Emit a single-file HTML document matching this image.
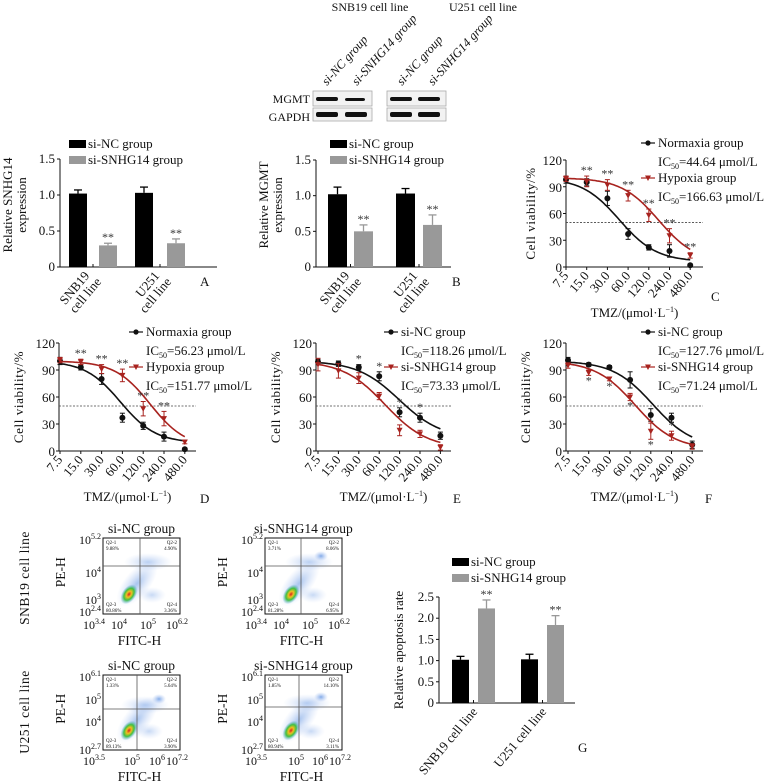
<!DOCTYPE html>
<html><head><meta charset="utf-8">
<style>
html,body{margin:0;padding:0;background:#fff;}
svg{display:block;font-family:"Liberation Serif",serif;}
</style></head>
<body>
<svg id="fig" width="773" height="784" viewBox="0 0 773 784" xmlns="http://www.w3.org/2000/svg">
<defs>
<radialGradient id="core" cx="50%" cy="50%" r="50%">
<stop offset="0" stop-color="#d62020"/><stop offset="0.3" stop-color="#f0c020"/><stop offset="0.6" stop-color="#40c040"/><stop offset="1" stop-color="#4aa0e0" stop-opacity="0"/>
</radialGradient>
<radialGradient id="halo" cx="50%" cy="50%" r="50%">
<stop offset="0" stop-color="#5a8fe0" stop-opacity="0.75"/><stop offset="1" stop-color="#9ab8f0" stop-opacity="0"/>
</radialGradient>
</defs>
</svg>
<script>
// ---- data ----
const barCats = ["SNB19 cell line", "U251 cell line"];
const snhgNC = [1.02, 1.03];
const snhgNCerr = [0.05, 0.08];
const snhgSi = [0.30, 0.33];
const snhgSiErr = [0.03, 0.06];
const mgmtNC = [1.02, 1.03];
const mgmtNCerr = [0.10, 0.07];
const mgmtSi = [0.50, 0.59];
const mgmtSiErr = [0.09, 0.14];
const apoNC = [1.02, 1.03];
const apoNCerr = [0.08, 0.12];
const apoSi = [2.23, 1.84];
const apoSiErr = [0.20, 0.22];
const barTicks = [0, 0.5, 1.0, 1.5];
const apoTicks = [0, 0.5, 1.0, 1.5, 2.0, 2.5];
const doses = [7.5, 15.0, 30.0, 60.0, 120.0, 240.0, 480.0];
const doseLabels = ["7.5", "15.0", "30.0", "60.0", "120.0", "240.0", "480.0"];
const vTicks = [0, 30, 60, 90, 120];
const cNorm = [98, 95, 77, 37, 22, 18, 2];
const cNormErr = [4, 4, 8, 6, 3, 7, 1];
const cHyp = [99, 96, 92, 80, 58, 35, 13];
const cHypErr = [3, 6, 6, 6, 7, 8, 3];
const cIC = [44.64, 166.63];
const dNorm = [100, 93, 80, 37, 28, 16, 2];
const dNormErr = [4, 3, 6, 5, 4, 5, 1];
const dHyp = [101, 99, 91, 84, 47, 36, 10];
const dHypErr = [3, 3, 5, 7, 8, 8, 2];
const dIC = [56.23, 151.77];
const eNC = [99, 97, 93, 83, 43, 37, 17];
const eNCerr = [3, 3, 3, 5, 5, 5, 4];
const eSi = [96, 89, 81, 61, 23, 19, 4];
const eSiErr = [7, 8, 6, 4, 6, 4, 3];
const eIC = [118.26, 73.33];
const fNC = [101, 96, 93, 79, 40, 37, 7];
const fNCerr = [3, 2, 2, 9, 7, 5, 4];
const fSi = [95, 87, 80, 60, 22, 17, 5];
const fSiErr = [3, 3, 2, 4, 9, 5, 3];
const fIC = [127.76, 71.24];

// ---- helpers ----
const NS = "http://www.w3.org/2000/svg";
const svg = document.getElementById('fig');
function mk(tag, attrs, parent){
  const e = document.createElementNS(NS, tag);
  for (const k in attrs) e.setAttribute(k, attrs[k]);
  (parent || svg).appendChild(e);
  return e;
}
function grp(name, parent){
  const g = mk('g', {}, parent);
  
  
  return g;
}
function txt(x, y, s, size, parent, anchor, extra){
  const t = mk('text', Object.assign({x:x, y:y, 'font-size':size, fill:'#111', 'text-anchor':anchor||'start'}, extra||{}), parent);
  t.textContent = s;
  return t;
}
function line(x1,y1,x2,y2,parent,stroke,w,dash){
  const a = {x1:x1,y1:y1,x2:x2,y2:y2,stroke:stroke||'#111','stroke-width':w||1};
  if (dash) a['stroke-dasharray'] = dash;
  return mk('line', a, parent);
}
function tmzLabel(cx, y, parent){
  const t = mk('text', {x:cx, y:y, 'font-size':13, 'text-anchor':'middle', fill:'#111'}, parent);
  
  
  const a = mk('tspan', {}, t); a.textContent = 'TMZ/(\u03bcmol\u00b7L';
  const b = mk('tspan', {dy:-5, 'font-size':8}, t); b.textContent = '\u22121';
  const c = mk('tspan', {dy:5}, t); c.textContent = ')';
}
function icText(x, y, val, parent){
  const t = mk('text', {x:x, y:y, 'font-size':13, fill:'#111'}, parent);
  
  
  const a = mk('tspan', {}, t); a.textContent = 'IC';
  const b = mk('tspan', {dy:3, 'font-size':8}, t); b.textContent = '50';
  const c = mk('tspan', {dy:-3}, t); c.textContent = '=' + val + ' \u03bcmol/L';
}

// ---- bar panel ----
function barPanel(o){
  const g = grp(o.name);
  const y = v => o.y0 - (v / o.max) * (o.y0 - o.yTop);
  line(o.ax, o.yTop, o.ax, o.y0, g);
  line(o.ax, o.y0, o.xEnd, o.y0, g);
  o.ticks.forEach(tv => {
    line(o.ax-3, y(tv), o.ax, y(tv), g);
    const lab = txt(o.ax-5, y(tv)+4, tv===0?'0':tv.toFixed(1), 13, g, 'end');
    
    
  });
  const series = [[o.nc, o.ncErr, '#000'], [o.si, o.siErr, '#999']];
  barCats.forEach((c, i) => {
    series.forEach((s, j) => {
      const x = o.barX[i*2 + j];
      const v = s[0][i], e = s[1][i];
      const r = mk('rect', {x:x, y:y(v), width:o.bw, height:o.y0 - y(v), fill:s[2]}, g);
      
      
      const cx = x + o.bw/2;
      line(cx, y(v), cx, y(v+e), g, s[2], 1.3);
      line(cx-4, y(v+e), cx+4, y(v+e), g, s[2], 1.3);
      if (j===1){
        const st = txt(cx, y(v+e)-2, '**', 12, g, 'middle', {fill:'#333'});
        
        
      }
    });
    const mid = (o.barX[i*2] + o.barX[i*2+1] + o.bw) / 2;
    line(mid, o.y0, mid, o.y0 - 3, g);
  });
  const lg = grp('legend', g);
  mk('rect', {x:o.lx, y:o.ly-8, width:17, height:8, fill:'#000'}, lg);
  txt(o.lx+19, o.ly, 'si-NC group', 13, lg);
  mk('rect', {x:o.lx, y:o.ly+8, width:17, height:8, fill:'#999'}, lg);
  txt(o.lx+19, o.ly+16, 'si-SNHG14 group', 13, lg);
  const yt = mk('text', {transform:'translate('+o.ytx+','+o.yty+') rotate(-90)', 'font-size':13, 'text-anchor':'middle', fill:'#111'}, g);
  
  
  o.ytitle.forEach((s, k) => { const ts = mk('tspan', {x:0, y:k*14}, yt); ts.textContent = s; });
  o.catPos.forEach((p, i) => {
    const t = mk('text', {transform:'translate('+p[0]+','+p[1]+') rotate(-50)', 'font-size':13, 'text-anchor':'end', fill:'#111'}, g);
    
    
    const parts = o.catLines ? barCats[i].replace(' cell line','|cell line').split('|') : [barCats[i]];
    parts.forEach((s, k) => { const ts = mk('tspan', {x:k*3, y:k*13}, t); ts.textContent = s; });
  });
  const pl = txt(o.px, o.py, o.letter, 13, g);
  
  
}

barPanel({name:'panel-a-snhg14-bar-chart', ax:60, xEnd:217, y0:267, yTop:159, max:1.5, ticks:barTicks,
  barX:[69,99,135,167], bw:18, nc:snhgNC, ncErr:snhgNCerr, si:snhgSi, siErr:snhgSiErr,
  lx:69, ly:148, ytitle:['Relative SNHG14','expression'], ytx:12, yty:205,
  catPos:[[90,276],[160,276]], catLines:true, letter:'A', px:200, py:286});
barPanel({name:'panel-b-mgmt-bar-chart', ax:316, xEnd:451, y0:267, yTop:160, max:1.5, ticks:barTicks,
  barX:[328,354,396,423], bw:19, nc:mgmtNC, ncErr:mgmtNCerr, si:mgmtSi, siErr:mgmtSiErr,
  lx:330, ly:148, ytitle:['Relative MGMT','expression'], ytx:268, yty:205,
  catPos:[[350,276],[418,276]], catLines:true, letter:'B', px:452, py:286});
barPanel({name:'panel-g-apoptosis-bar-chart', ax:439, xEnd:575, y0:703, yTop:597, max:2.5, ticks:apoTicks,
  barX:[452,478,521,547], bw:17, nc:apoNC, ncErr:apoNCerr, si:apoSi, siErr:apoSiErr,
  lx:452, ly:566, ytitle:['Relative apoptosis rate'], ytx:403, yty:650,
  catPos:[[478,712],[547,712]], catLines:false, letter:'G', px:578, py:752});

// ---- viability panels ----
function vPanel(o){
  const g = grp(o.name);
  const y = v => o.y0 - (v / 120) * (o.y0 - o.yTop);
  const x = c => o.x0 + Math.log2(c / doses[0]) * o.dx;
  line(o.ax, o.yTop, o.ax, o.y0, g);
  line(o.ax, o.y0, o.xEnd, o.y0, g);
  vTicks.forEach(tv => {
    line(o.ax-3, y(tv), o.ax, y(tv), g);
    const l = txt(o.ax-4, y(tv)+5, String(tv), 13, g, 'end');
    
    
  });
  doses.forEach((d, i) => {
    line(x(d), o.y0, x(d), o.y0+3, g);
    const l = mk('text', {transform:'translate('+(x(d)+3)+','+(o.y0+9)+') rotate(-50)', 'font-size':13, 'text-anchor':'end', fill:'#111'}, g);
    l.textContent = doseLabels[i];
    
    
  });
  line(o.ax, y(50), o.xEnd, y(50), g, '#444', 0.8, '2,1.5');
  const yt = mk('text', {transform:'translate('+o.ytx+','+((o.yTop+o.y0)/2)+') rotate(-90)', 'font-size':13, 'text-anchor':'middle', fill:'#111', 'letter-spacing':'0.6'}, g);
  yt.textContent = 'Cell viability/%';
  
  
  tmzLabel((o.ax+o.xEnd)/2, o.tmzY, g);
  const pl = txt(o.px, o.py, o.letter, 13, g);
  
  
  const series = [[o.s1, o.e1, '#111', 'circle', o.ic[0], o.bot1], [o.s2, o.e2, '#a8231f', 'tri', o.ic[1], o.bot2]];
  series.forEach((s, j) => {
    const sg = grp(j===0 ? 'series-control' : 'series-treatment', g);
    let d = '';
    for (let k = 0; k <= 60; k++){
      const c = doses[0] * Math.pow(2, k/60 * (doses.length-1));
      const v = s[5] + (100 - s[5]) / (1 + Math.pow(c / s[4], o.hill));
      d += (k ? 'L' : 'M') + x(c).toFixed(1) + ',' + y(v).toFixed(1);
    }
    const p = mk('path', {d:d, fill:'none', stroke:s[2], 'stroke-width':1.6}, sg);
    
    
    s[0].forEach((v, i) => {
      const px = x(doses[i]);
      line(px, y(v - s[1][i]), px, y(v + s[1][i]), sg, s[2], 1);
      line(px-2.5, y(v + s[1][i]), px+2.5, y(v + s[1][i]), sg, s[2], 1);
      line(px-2.5, y(v - s[1][i]), px+2.5, y(v - s[1][i]), sg, s[2], 1);
      let m;
      if (s[3] === 'circle') m = mk('circle', {cx:px, cy:y(v), r:3, fill:s[2]}, sg);
      else m = mk('path', {d:'M'+(px-3)+','+(y(v)-2.5)+'L'+(px+3)+','+(y(v)-2.5)+'L'+px+','+(y(v)+3)+'Z', fill:s[2]}, sg);
      
      
    });
  });
  o.stars.forEach(i => {
    const v = o.s2[i], e = o.e2[i];
    const top = Math.max(v + e, o.starAbove ? o.s1[i] + o.e1[i] : 0);
    const sy = o.starBelow && o.starBelow.includes(i) ? y(v - e) + 9 : y(top) - 2;
    const st = txt(x(doses[i]), sy, o.starStr, 12, g, 'middle', {fill:'#333'});
    
    
  });
  const lg = grp('legend', g);
  line(o.lx-7, o.ly-4, o.lx+7, o.ly-4, lg, '#111', 1.2);
  mk('circle', {cx:o.lx, cy:o.ly-4, r:2.6, fill:'#111'}, lg);
  txt(o.lx+10, o.ly, o.names[0], 13, lg);
  icText(o.lx+10, o.ly+19, o.ic[0].toFixed(2), lg);
  line(o.lx-7, o.ly+31, o.lx+7, o.ly+31, lg, '#a8231f', 1.2);
  mk('path', {d:'M'+(o.lx-3)+','+(o.ly+28.5)+'L'+(o.lx+3)+','+(o.ly+28.5)+'L'+o.lx+','+(o.ly+34)+'Z', fill:'#a8231f'}, lg);
  txt(o.lx+10, o.ly+35, o.names[1], 13, lg);
  icText(o.lx+10, o.ly+54, o.ic[1].toFixed(2), lg);
}

vPanel({name:'panel-c-viability-chart', ax:566, xEnd:703, x0:566, dx:20.7, y0:267, yTop:160, ytx:535,
  s1:cNorm, e1:cNormErr, s2:cHyp, e2:cHypErr, ic:cIC, bot1:6, bot2:5, hill:1.6,
  stars:[1,2,3,4,5,6], starStr:'**', starAbove:false, lx:648, ly:147, names:['Normaxia group','Hypoxia group'],
  tmzY:317, letter:'C', px:711, py:301});
vPanel({name:'panel-d-viability-chart', ax:59, xEnd:196, x0:60, dx:20.8, y0:451, yTop:343, ytx:23,
  s1:dNorm, e1:dNormErr, s2:dHyp, e2:dHypErr, ic:dIC, bot1:9, bot2:4, hill:1.7,
  stars:[1,2,3,4,5], starStr:'**', starAbove:true, lx:136, ly:336, names:['Normaxia group','Hypoxia group'],
  tmzY:501, letter:'D', px:200, py:503});
vPanel({name:'panel-e-viability-chart', ax:316, xEnd:451, x0:318, dx:20.4, y0:451, yTop:343, ytx:280,
  s1:eNC, e1:eNCerr, s2:eSi, e2:eSiErr, ic:eIC, bot1:14, bot2:3, hill:1.4,
  stars:[2,3,4,5], starStr:'*', starAbove:true, lx:391, ly:336, names:['si-NC group','si-SNHG14 group'],
  tmzY:501, letter:'E', px:453, py:503});
vPanel({name:'panel-f-viability-chart', ax:566, xEnd:703, x0:568, dx:20.7, y0:451, yTop:343, ytx:530,
  s1:fNC, e1:fNCerr, s2:fSi, e2:fSiErr, ic:fIC, bot1:4, bot2:2, hill:1.5,
  stars:[1,2,3,4,5], starStr:'*', starAbove:false, starBelow:[1,2,3,4], lx:648, ly:336, names:['si-NC group','si-SNHG14 group'],
  tmzY:501, letter:'F', px:705, py:503});

// ---- western blot ----
(function(){
  const g = grp('western-blot');
  txt(370, 11, 'SNB19 cell line', 12, g, 'middle');
  txt(483, 11, 'U251 cell line', 12, g, 'middle');
  const labs = ['si-NC group','si-SNHG14 group','si-NC group','si-SNHG14 group'];
  const lx = [327, 357, 402, 433];
  labs.forEach((s, i) => {
    const t = mk('text', {transform:'translate('+lx[i]+',86) rotate(-48)', 'font-size':12.5, 'font-style':'italic', fill:'#111'}, g);
    t.textContent = s;
    
    
  });
  txt(310, 103, 'MGMT', 12, g, 'end');
  txt(310, 121, 'GAPDH', 12, g, 'end');
  [313, 387].forEach(bx => {
    mk('rect', {x:bx, y:91, width:59, height:15, fill:'#f2f2f2', stroke:'#aaa', 'stroke-width':0.8}, g);
    mk('rect', {x:bx, y:108, width:59, height:13, fill:'#f2f2f2', stroke:'#aaa', 'stroke-width':0.8}, g);
  });
  const bands = [[316,97,22,4],[345,98,20,3],[390,97,22,4],[418,97,22,4],
                 [316,112,22,5],[345,112,22,5],[390,112,22,5],[418,112,22,5]];
  bands.forEach(b => mk('rect', {x:b[0], y:b[1], width:b[2], height:b[3], rx:2, fill:'#111'}, g));
})();

// ---- flow cytometry ----
function flow(o){
  const g = grp(o.name);
  const bx = o.x, by = o.y, w = 77, h = o.h;
  mk('rect', {x:bx, y:by, width:w, height:h, fill:'#fff', stroke:'#111', 'stroke-width':1}, g);
  mk('ellipse', {cx:o.vx+8, cy:o.hy-4, rx:24, ry:9, fill:'url(#halo)', opacity:0.55}, g);
  mk('ellipse', {cx:bx+34, cy:by+h*0.6, rx:28, ry:13, transform:'rotate(-50 '+(bx+34)+' '+(by+h*0.6)+')', fill:'url(#halo)', opacity:0.7}, g);
  mk('ellipse', {cx:o.vx+12, cy:by+h*0.75, rx:14, ry:8, fill:'url(#halo)', opacity:0.45}, g);
  mk('ellipse', {cx:bx+26, cy:by+h*0.74, rx:11, ry:7, transform:'rotate(-55 '+(bx+26)+' '+(by+h*0.74)+')', fill:'url(#core)'}, g);
  if (o.hot) mk('ellipse', {cx:bx+56, cy:o.hy-10, rx:7, ry:5, fill:'url(#halo)'}, g);
  line(bx, o.hy, bx+w, o.hy, g, '#555', 0.8);
  line(o.vx, by, o.vx, by+h, g, '#555', 0.8);
  txt(bx+3, by+6, 'Q2-1', 5, g); txt(bx+3, by+12, o.q[0], 5, g);
  txt(bx+w-3, by+6, 'Q2-2', 5, g, 'end'); txt(bx+w-3, by+12, o.q[1], 5, g, 'end');
  txt(bx+3, by+h-8, 'Q2-3', 5, g); txt(bx+3, by+h-2, o.q[2], 5, g);
  txt(bx+w-3, by+h-8, 'Q2-4', 5, g, 'end'); txt(bx+w-3, by+h-2, o.q[3], 5, g, 'end');
  const tt = txt(bx+w/2, by-5, o.title, 13.5, g, 'middle');
  
  
  o.yt.forEach(t => {
    const e = mk('text', {x:bx-2, y:t[1]+4, 'font-size':12, 'text-anchor':'end', fill:'#111'}, g);
    const a = mk('tspan', {}, e); a.textContent = '10';
    if (t[0]) { const b = mk('tspan', {dy:-5, 'font-size':8}, e); b.textContent = t[0]; }
  });
  o.xt.forEach(t => {
    const e = mk('text', {x:t[1], y:by+h+15, 'font-size':12, 'text-anchor':'middle', fill:'#111'}, g);
    const a = mk('tspan', {}, e); a.textContent = '10';
    const b = mk('tspan', {dy:-5, 'font-size':8}, e); b.textContent = t[0];
  });
  const xl = txt(bx+w/2-2, by+h+31, 'FITC-H', 13.5, g, 'middle');
  
  
  const yl = mk('text', {transform:'translate('+(o.x-38)+','+(by+h*0.45)+') rotate(-90)', 'font-size':13.5, 'text-anchor':'middle', fill:'#111'}, g);
  yl.textContent = 'PE-H';
  
  
}
flow({name:'flow-snb19-si-nc', x:103, y:538, h:76, hy:566, vx:140, title:'si-NC group', q:['9.88%','4.90%','80.86%','3.36%'],
  yt:[['5.2',540],['4',573],['3',600],['2.4',612]], xt:[['3.4',94],['4',119],['5',148],['6.2',177]]});
flow({name:'flow-snb19-si-snhg14', x:265, y:538, h:76, hy:566, vx:301, title:'si-SNHG14 group', q:['3.71%','8.06%','81.28%','6.95%'],
  yt:[['5.2',540],['4',573],['3',600],['2.4',612]], xt:[['3.4',256],['4',281],['5',310],['6.2',339]], hot:true});
flow({name:'flow-u251-si-nc', x:103, y:675, h:75, hy:709, vx:137, title:'si-NC group', q:['1.33%','5.64%','89.13%','3.90%'],
  yt:[['6.1',677],['5',700],['4',722],['2.7',750]], xt:[['3.5',94],['5',132],['6',157],['7.2',177]], hot:true});
flow({name:'flow-u251-si-snhg14', x:265, y:675, h:75, hy:707, vx:299, title:'si-SNHG14 group', q:['1.85%','14.10%','80.94%','3.11%'],
  yt:[['6.1',677],['5',700],['4',722],['2.7',750]], xt:[['3.5',256],['5',296],['6',320],['7.2',340]], hot:true});
(function(){
  const g = grp('row-labels');
  const a = mk('text', {transform:'translate(29,578) rotate(-90)', 'font-size':13.5, 'text-anchor':'middle', fill:'#111', 'letter-spacing':'0.5'}, g);
  a.textContent = 'SNB19 cell line';
  const b = mk('text', {transform:'translate(29,712) rotate(-90)', 'font-size':13.5, 'text-anchor':'middle', fill:'#111', 'letter-spacing':'0.5'}, g);
  b.textContent = 'U251 cell line';
})();
</script>
</body></html>
